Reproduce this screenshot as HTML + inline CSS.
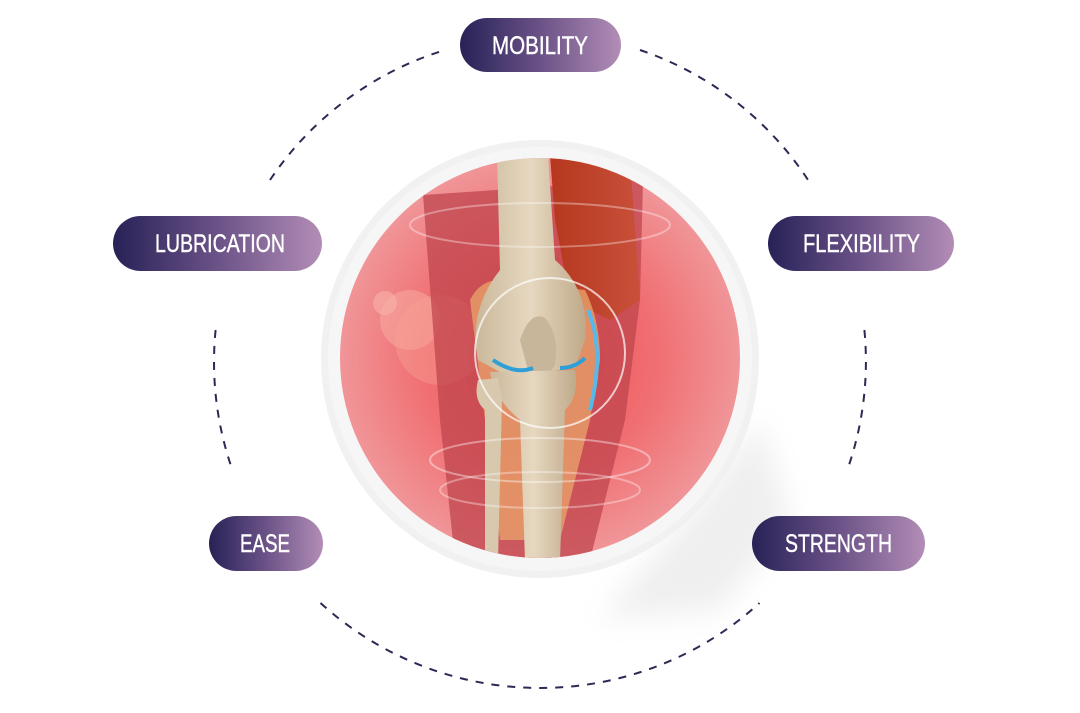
<!DOCTYPE html>
<html><head><meta charset="utf-8"><style>
html,body{margin:0;padding:0;background:#fff;width:1080px;height:713px;overflow:hidden}
svg{display:block}
</style></head><body>
<svg width="1080" height="713" viewBox="0 0 1080 713" xmlns="http://www.w3.org/2000/svg">
<defs>
<linearGradient id="pill" x1="0" y1="0" x2="1" y2="0">
<stop offset="0" stop-color="#272257"/><stop offset="0.5" stop-color="#6b5287"/><stop offset="1" stop-color="#b28db6"/>
</linearGradient>
<radialGradient id="pink" cx="0.5" cy="0.5" r="0.5">
<stop offset="0" stop-color="#f04a52"/><stop offset="0.6" stop-color="#f07073"/><stop offset="1" stop-color="#f09598"/>
</radialGradient>
<linearGradient id="bone" x1="0" y1="0" x2="1" y2="0">
<stop offset="0" stop-color="#cbb89b"/><stop offset="0.5" stop-color="#e6d8c0"/><stop offset="1" stop-color="#bfa98a"/>
</linearGradient>
<linearGradient id="muscle" x1="0" y1="0" x2="1" y2="0">
<stop offset="0" stop-color="#b5371e"/><stop offset="1" stop-color="#c9503a"/>
</linearGradient>
<filter id="blur" x="-50%" y="-50%" width="200%" height="200%"><feGaussianBlur stdDeviation="14"/></filter>
<clipPath id="inner"><circle cx="540" cy="358" r="200"/></clipPath>
</defs>

<g fill="none" stroke="#2b2a55" stroke-width="2" stroke-dasharray="8 8">
<path d="M270 180 A326 326 0 0 1 445 50"/>
<path d="M640 50 A326 326 0 0 1 810 183"/>
<path d="M215.6 330 A326 326 0 0 0 232.4 470"/>
<path d="M864.4 330 A326 326 0 0 1 849 465"/>
<path d="M320.5 603 A326 326 0 0 0 759.5 603"/>
</g>

<!-- shadow -->
<path d="M700 500 L760 420 L790 520 L720 610 L600 620 Z" fill="#e2e2e2" opacity="0.55" filter="url(#blur)"/>
<circle cx="540" cy="359" r="219" fill="#f1f1f1"/>
<circle cx="540" cy="359" r="212" fill="#f6f6f6"/>
<circle cx="540" cy="358" r="200" fill="url(#pink)"/>

<g clip-path="url(#inner)">
<circle cx="385" cy="303" r="12" fill="#f8b3a8" opacity="0.6"/>
<circle cx="410" cy="320" r="30" fill="#f8b3a8" opacity="0.45"/>
<circle cx="440" cy="340" r="45" fill="#f7a294" opacity="0.4"/>
<path d="M423 195 L643 180 L640 300 L625 420 L590 560 L455 560 L440 420 Z" fill="#c0454d" opacity="0.75"/>
<path d="M550 155 L630 160 L640 300 L610 320 L570 300 L555 220 Z" fill="url(#muscle)"/>
<path d="M470 300 Q480 280 500 280 L585 290 Q600 320 600 360 L590 420 L560 540 L500 540 L485 420 Z" fill="#e9a06a" opacity="0.8"/>
<path d="M497 155 L548 155 L555 260 Q590 290 585 340 L575 368 L540 372 L500 372 L478 360 Q468 310 500 270 Z" fill="url(#bone)"/>
<path d="M520 340 Q530 310 545 318 Q560 335 555 365 L545 380 L530 378 Z" fill="#c8b69b"/>
<path d="M490 372 L575 370 Q580 395 565 410 L560 560 L525 560 L520 420 Q495 400 490 372 Z" fill="url(#bone)"/>
<path d="M478 380 L498 378 L502 400 L498 560 L485 560 L485 410 Q473 400 478 380 Z" fill="#d8c8ae"/>
<path d="M493 360 Q515 375 533 368" fill="none" stroke="#2f9fd8" stroke-width="4"/>
<path d="M560 368 Q575 368 585 358" fill="none" stroke="#2f9fd8" stroke-width="4"/>
<path d="M588 310 Q605 350 590 410" fill="none" stroke="#59b8ea" stroke-width="4"/>
<circle cx="550" cy="353" r="75" fill="none" stroke="#fff" stroke-width="2" opacity="0.7"/>
<ellipse cx="540" cy="460" rx="110" ry="22" fill="none" stroke="#fff" stroke-width="2" opacity="0.4"/>
<ellipse cx="540" cy="490" rx="100" ry="18" fill="none" stroke="#fff" stroke-width="2" opacity="0.35"/>
<ellipse cx="540" cy="225" rx="130" ry="22" fill="none" stroke="#fff" stroke-width="2" opacity="0.35"/>
</g>

<g font-family="Liberation Sans, sans-serif" font-size="25" fill="#fff" stroke="#fff" stroke-width="0.4">
<rect x="460" y="18" width="161" height="54" rx="27" fill="url(#pill)" stroke="none"/>
<text x="492" y="54" textLength="96" lengthAdjust="spacingAndGlyphs">MOBILITY</text>
<rect x="113" y="216" width="209" height="55" rx="27.5" fill="url(#pill)" stroke="none"/>
<text x="155" y="252" textLength="130" lengthAdjust="spacingAndGlyphs">LUBRICATION</text>
<rect x="768" y="216" width="186" height="55" rx="27.5" fill="url(#pill)" stroke="none"/>
<text x="803" y="252" textLength="117" lengthAdjust="spacingAndGlyphs">FLEXIBILITY</text>
<rect x="209" y="516" width="114" height="55" rx="27.5" fill="url(#pill)" stroke="none"/>
<text x="240" y="552" textLength="50" lengthAdjust="spacingAndGlyphs">EASE</text>
<rect x="752" y="516" width="173" height="55" rx="27.5" fill="url(#pill)" stroke="none"/>
<text x="785" y="552" textLength="107" lengthAdjust="spacingAndGlyphs">STRENGTH</text>
</g>
</svg>
</body></html>
